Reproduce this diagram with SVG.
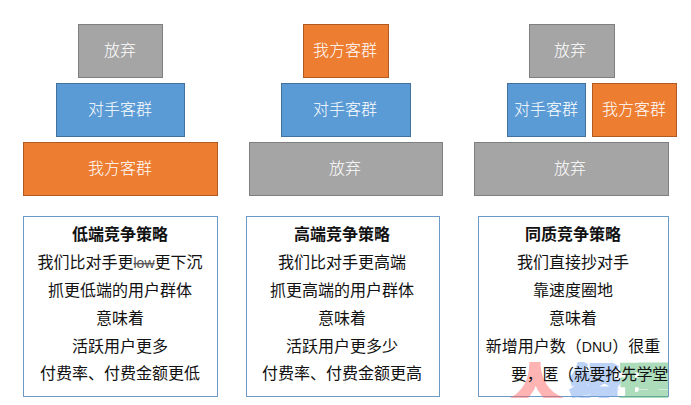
<svg xmlns="http://www.w3.org/2000/svg" width="691" height="405" viewBox="0 0 691 405">
<style>
text{font-family:"Noto Sans CJK SC","Noto Sans",sans-serif;font-size:16px;text-anchor:middle}
.g rect{fill:#a5a5a5;stroke:#7f7f7f;stroke-width:1}
.b rect{fill:#5b9bd5;stroke:#41719c;stroke-width:1}
.o rect{fill:#ed7d31;stroke:#ae5a21;stroke-width:1}
.n text{fill:#fff;font-weight:300}
.p rect{fill:#fff;stroke:#6d9ac4;stroke-width:1}
.p text{fill:#111;font-weight:400}
.p text.h{font-weight:700}
.w text{font-weight:900;font-size:50px;stroke-width:3}
</style>
<defs><clipPath id="wc"><rect x="500" y="362" width="168" height="36"/></clipPath></defs>
<g id="a1" class="n g"><rect x="78.5" y="24.5" width="84" height="53"/><text x="120" y="56">放弃</text></g>
<g id="a2" class="n b"><rect x="56.5" y="83.5" width="128" height="53"/><text x="120" y="115">对手客群</text></g>
<g id="a3" class="n o"><rect x="23.5" y="142.5" width="194" height="53"/><text x="120" y="174">我方客群</text></g>
<g id="b1" class="n o"><rect x="303.5" y="24.5" width="85" height="53"/><text x="345" y="56">我方客群</text></g>
<g id="b2" class="n b"><rect x="281.5" y="83.5" width="129" height="53"/><text x="345" y="115">对手客群</text></g>
<g id="b3" class="n g"><rect x="249.5" y="142.5" width="193" height="53"/><text x="345" y="174">放弃</text></g>
<g id="c1" class="n g"><rect x="529.5" y="24.5" width="85" height="53"/><text x="570" y="56">放弃</text></g>
<g id="c2" class="n b"><rect x="507.5" y="83.5" width="78" height="53"/><text x="546" y="115">对手客群</text></g>
<g id="c3" class="n o"><rect x="592.5" y="83.5" width="84" height="53"/><text x="634" y="115">我方客群</text></g>
<g id="c4" class="n g"><rect x="474.5" y="142.5" width="194" height="53"/><text x="570" y="174">放弃</text></g>
<g id="p1" class="p"><rect x="23.5" y="216.5" width="194" height="180"/>
<text class="h" x="120" y="240">低端竞争策略</text>
<text x="120" y="268">我们比对手更<tspan font-family="Liberation Sans" font-size="14" fill="#555" text-decoration="line-through">low</tspan>更下沉</text>
<text x="120" y="296">抓更低端的用户群体</text>
<text x="120" y="324">意味着</text>
<text x="120" y="352">活跃用户更多</text>
<text x="120" y="379">付费率、付费金额更低</text></g>
<g id="p2" class="p"><rect x="246.5" y="216.5" width="193" height="180"/>
<text class="h" x="342" y="240">高端竞争策略</text>
<text x="342" y="268">我们比对手更高端</text>
<text x="342" y="296">抓更高端的用户群体</text>
<text x="342" y="324">意味着</text>
<text x="342" y="352">活跃用户更多少</text>
<text x="342" y="379">付费率、付费金额更高</text></g>
<g id="p3" class="p"><rect x="478.5" y="216.5" width="190" height="180"/>
<text class="h" x="573" y="240">同质竞争策略</text>
<text x="573" y="268">我们直接抄对手</text>
<text x="573" y="296">靠速度圈地</text>
<text x="573" y="324">意味着</text>
<text x="573" y="352">新增用户数（<tspan font-family="Liberation Sans" font-size="14">DNU</tspan>）很重</text></g>
<g class="w" clip-path="url(#wc)" opacity="0.5">
<text x="536" y="400" fill="#ff6b6b" stroke="#ff6b6b">人</text>
<text x="595" y="405" fill="#7ba7f0" stroke="#7ba7f0">经</text>
<text x="645" y="405" fill="#5dbb7a" stroke="#5dbb7a">理</text>
</g>
<text x="511" y="380" style="text-anchor:start;fill:#111" letter-spacing="-0.3">要，匿（就要抢先学堂</text>
</svg>
